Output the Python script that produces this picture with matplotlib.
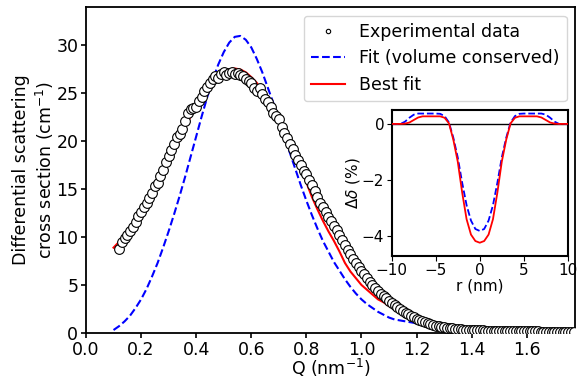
import matplotlib
matplotlib.use("Agg")
import matplotlib.pyplot as plt

# ---------------- data ----------------
q_exp = [0.12, 0.13, 0.14, 0.15, 0.16, 0.17, 0.18, 0.19, 0.20, 0.21,
         0.22, 0.23, 0.24, 0.25, 0.26, 0.27, 0.28, 0.29, 0.30, 0.31,
         0.32, 0.33, 0.34, 0.35, 0.36, 0.37, 0.38, 0.39, 0.40, 0.41,
         0.42, 0.43, 0.44, 0.45, 0.46, 0.47, 0.48, 0.49, 0.50, 0.51,
         0.52, 0.53, 0.54, 0.55, 0.56, 0.57, 0.58, 0.59, 0.60, 0.61,
         0.62, 0.63, 0.64, 0.65, 0.66, 0.67, 0.68, 0.69, 0.70, 0.71,
         0.72, 0.73, 0.74, 0.75, 0.76, 0.77, 0.78, 0.79, 0.80, 0.81,
         0.82, 0.83, 0.84, 0.85, 0.86, 0.87, 0.88, 0.89, 0.90, 0.91,
         0.92, 0.93, 0.94, 0.95, 0.96, 0.97, 0.98, 0.99, 1.00, 1.01,
         1.02, 1.03, 1.04, 1.05, 1.06, 1.07, 1.08, 1.09, 1.10, 1.11,
         1.12, 1.13, 1.14, 1.15, 1.16, 1.17, 1.18, 1.19, 1.20, 1.21,
         1.22, 1.23, 1.24, 1.25, 1.26, 1.27, 1.28, 1.29, 1.30, 1.31,
         1.32, 1.33, 1.34, 1.35, 1.36, 1.37, 1.38, 1.39, 1.40, 1.41,
         1.42, 1.43, 1.44, 1.45, 1.46, 1.47, 1.48, 1.49, 1.50, 1.51,
         1.52, 1.53, 1.54, 1.55, 1.56, 1.57, 1.58, 1.59, 1.60, 1.61,
         1.62, 1.63, 1.64, 1.65, 1.66, 1.67, 1.68, 1.69, 1.70, 1.71,
         1.72, 1.73, 1.74, 1.75, 1.76, 1.77]
i_exp = [8.8, 9.5, 9.9, 10.2, 10.6, 11.1, 11.6, 12.2, 12.6, 13.1,
         13.6, 14.1, 14.6, 15.3, 15.6, 16.4, 17.0, 17.8, 18.5, 19.1,
         19.7, 20.4, 20.8, 21.3, 22.1, 23.0, 23.4, 23.5, 23.6, 24.2,
         24.6, 25.2, 25.7, 26.1, 26.5, 26.8, 26.6, 27.0, 27.2, 26.9,
         27.1, 27.2, 27.0, 27.1, 26.9, 26.8, 26.5, 26.3, 26.1, 25.6,
         25.2, 25.6, 24.9, 24.4, 24.1, 23.6, 23.0, 22.6, 22.3, 21.5,
         20.9, 20.3, 19.7, 19.2, 18.6, 18.0, 17.5, 16.9, 16.6, 16.0,
         15.4, 14.8, 14.2, 13.6, 13.1, 12.6, 12.1, 11.7, 11.2, 10.7,
         10.2, 9.7, 9.2, 8.7, 8.2, 7.7, 7.3, 6.9, 6.5, 6.1,
         5.7, 5.3, 5.0, 4.7, 4.4, 4.1, 3.85, 3.6, 3.35, 3.1,
         2.9, 2.7, 2.5, 2.3, 2.1, 1.95, 1.8, 1.65, 1.5, 1.38,
         1.26, 1.15, 1.02, 0.92, 0.84, 0.77, 0.71, 0.66, 0.61, 0.56,
         0.52, 0.48, 0.44, 0.41, 0.38, 0.35, 0.33, 0.31, 0.29, 0.28,
         0.27, 0.26, 0.25, 0.24, 0.23, 0.22, 0.22, 0.21, 0.20, 0.20,
         0.19, 0.19, 0.18, 0.18, 0.17, 0.17, 0.17, 0.16, 0.16, 0.16,
         0.15, 0.15, 0.15, 0.14, 0.14, 0.14, 0.14, 0.13, 0.13, 0.13,
         0.13, 0.13, 0.12, 0.12, 0.12, 0.12]

q_vol = [0.10, 0.12, 0.14, 0.16, 0.18, 0.20, 0.22, 0.24, 0.26, 0.28,
         0.30, 0.32, 0.34, 0.36, 0.38, 0.40, 0.42, 0.44, 0.46, 0.48,
         0.50, 0.52, 0.54, 0.56, 0.58, 0.60, 0.62, 0.64, 0.66, 0.68,
         0.70, 0.72, 0.74, 0.76, 0.78, 0.80, 0.82, 0.84, 0.86, 0.88,
         0.90, 0.92, 0.94, 0.96, 0.98, 1.00, 1.02, 1.04, 1.06, 1.08,
         1.10, 1.12, 1.14, 1.16, 1.18, 1.20, 1.23]
i_vol = [0.3, 0.7, 1.2, 1.8, 2.6, 3.5, 4.6, 5.9, 7.3, 8.9,
         10.6, 12.4, 14.3, 16.3, 18.4, 20.5, 22.6, 24.6, 26.4, 28.0,
         29.3, 30.3, 30.9, 31.0, 30.6, 29.8, 28.6, 27.2, 25.6, 24.0,
         22.4, 20.6, 18.8, 17.1, 15.4, 13.8, 12.3, 10.9, 9.6, 8.5,
         7.4, 6.5, 5.6, 4.8, 4.1, 3.5, 3.0, 2.6, 2.2, 1.9,
         1.6, 1.4, 1.3, 1.2, 1.1, 1.0, 0.9]

q_best = [0.10, 0.12, 0.14, 0.16, 0.18, 0.20, 0.22, 0.24, 0.26, 0.28,
          0.30, 0.32, 0.34, 0.36, 0.38, 0.40, 0.42, 0.44, 0.46, 0.48,
          0.50, 0.52, 0.54, 0.56, 0.58, 0.60, 0.62, 0.64, 0.66, 0.68,
          0.70, 0.72, 0.74, 0.76, 0.78, 0.80, 0.82, 0.84, 0.86, 0.88,
          0.90, 0.92, 0.94, 0.96, 0.98, 1.00, 1.02, 1.04, 1.06, 1.08,
          1.10, 1.12, 1.14, 1.16, 1.18, 1.20, 1.21]
i_best = [8.9, 9.5, 10.2, 11.0, 11.8, 12.7, 13.6, 14.6, 15.6, 16.7,
          17.8, 19.0, 20.2, 21.4, 22.6, 23.7, 24.7, 25.6, 26.3, 26.9,
          27.3, 27.5, 27.6, 27.5, 27.2, 26.7, 26.1, 25.3, 24.4, 23.3,
          22.2, 21.0, 19.8, 18.5, 17.1, 15.7, 14.2, 12.9, 11.7, 10.6,
          9.6, 8.5, 7.3, 6.4, 5.7, 5.0, 4.5, 4.0, 3.5, 3.2,
          2.8, 2.5, 2.25, 2.0, 1.8, 1.6, 1.5]

# inset: density deviation profiles
r_prof = [-10.0, -9.5, -9.0, -8.5, -8.0, -7.5, -7.0, -6.5, -6.0, -5.5,
          -5.0, -4.5, -4.0, -3.5, -3.0, -2.5, -2.0, -1.5, -1.0, -0.5,
          0.0, 0.5, 1.0, 1.5, 2.0, 2.5, 3.0, 3.5, 4.0, 4.5,
          5.0, 5.5, 6.0, 6.5, 7.0, 7.5, 8.0, 8.5, 9.0, 9.5, 10.0]
d_vol = [0.0, 0.0, 0.0, 0.08, 0.22, 0.33, 0.37, 0.37, 0.37, 0.37,
         0.37, 0.36, 0.28, 0.05, -0.5, -1.2, -2.1, -2.9, -3.45, -3.75,
         -3.82, -3.75, -3.45, -2.9, -2.1, -1.2, -0.5, 0.05, 0.28, 0.36,
         0.37, 0.37, 0.37, 0.37, 0.37, 0.33, 0.22, 0.08, 0.0, 0.0, 0.0]
d_best = [0.0, 0.0, 0.0, 0.01, 0.05, 0.14, 0.23, 0.27, 0.27, 0.27,
          0.27, 0.27, 0.22, 0.02, -0.57, -1.35, -2.45, -3.4, -3.95, -4.18,
          -4.24, -4.18, -3.95, -3.4, -2.45, -1.35, -0.57, 0.02, 0.22, 0.27,
          0.27, 0.27, 0.27, 0.27, 0.23, 0.14, 0.05, 0.01, 0.0, 0.0, 0.0]

x_ticks = [0.0, 0.2, 0.4, 0.6, 0.8, 1.0, 1.2, 1.4, 1.6]
y_ticks = [0, 5, 10, 15, 20, 25, 30]

# ---------------- figure ----------------
FS = 12.5
FSI = 11
fig = plt.figure(figsize=(5.77, 3.77), dpi=100)
ax = fig.add_axes([0.149, 0.117, 0.848, 0.864])

ax.plot(q_exp, i_exp, 'o', ms=7, mfc='white', mec='black', mew=0.8,
        label='Experimental data', zorder=3)
ax.plot(q_vol, i_vol, '--', color='blue', lw=1.5,
        label='Fit (volume conserved)', zorder=2)
ax.plot(q_best, i_best, '-', color='red', lw=1.5, label='Best fit', zorder=2)

ax.set_xlim(0, 1.776)
ax.set_ylim(0, 34)
ax.set_xticks(x_ticks)
ax.set_yticks(y_ticks)
ax.tick_params(labelsize=FS, width=1.2, pad=2)
for s in ax.spines.values():
    s.set_linewidth(1.3)
ax.set_xlabel('Q (nm$^{-1}$)', fontsize=FS, labelpad=-1)
ax.set_ylabel('Differential scattering\ncross section (cm$^{-1}$)', fontsize=FS,
              labelpad=0.5)
ax.legend(loc='upper right', fontsize=FS, markerscale=0.45,
          borderaxespad=0.5, handletextpad=0.8)

# inset
axi = fig.add_axes([0.679, 0.322, 0.305, 0.385])
axi.axhline(0, color='black', lw=1.0, zorder=1)
axi.plot(r_prof, d_vol, '--', color='blue', lw=1.3, zorder=2)
axi.plot(r_prof, d_best, '-', color='red', lw=1.3, zorder=3)
axi.set_xlim(-10, 10)
axi.set_ylim(-4.7, 0.48)
axi.set_xticks([-10, -5, 0, 5, 10])
axi.set_yticks([-4, -2, 0])
axi.tick_params(labelsize=FSI, pad=2)
for s in axi.spines.values():
    s.set_linewidth(1.5)
axi.set_xlabel('r (nm)', fontsize=FSI, labelpad=0)
axi.set_ylabel(r'$\Delta\delta$ (%)', fontsize=FSI, labelpad=0)

fig.savefig('out.png', dpi=100)
